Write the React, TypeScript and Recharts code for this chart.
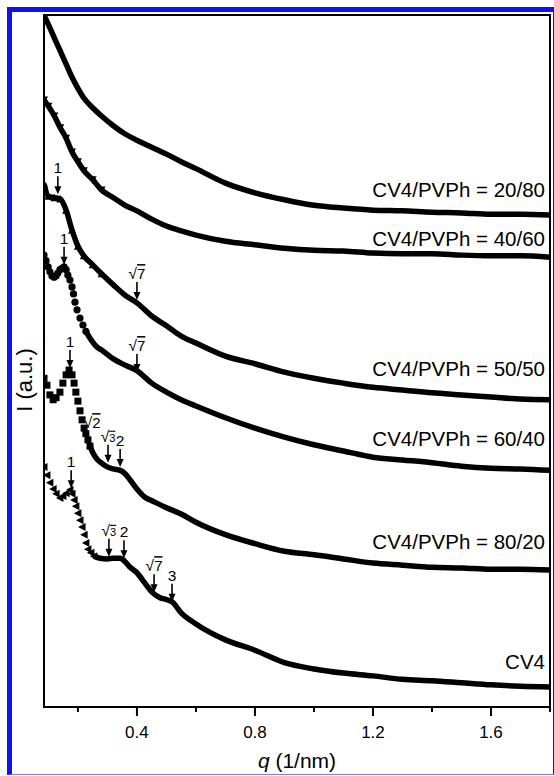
import React from "react";
import {
  ComposedChart,
  Line,
  Scatter,
  XAxis,
  YAxis,
  ReferenceArea,
  ReferenceDot,
  Label,
} from "recharts";

type Pt = { q: number; I: number };

const FONT = "'Liberation Sans', Arial, Helvetica, sans-serif";

// shared q grid (1/nm) for the three upper blends
const qGrid = [
  0.085, 0.1, 0.12, 0.14, 0.16, 0.18, 0.2, 0.22, 0.25, 0.28, 0.32, 0.36, 0.4,
  0.45, 0.5, 0.55, 0.6, 0.7, 0.8, 0.9, 1.0, 1.1, 1.2, 1.3, 1.4, 1.5, 1.6, 1.7,
  1.8,
];

// CV4/PVPh = 20/80
const i2080 = [
  100.0, 98.6, 96.7, 94.8, 92.9, 91.0, 89.4, 88.0, 86.6, 85.4, 84.0, 82.8,
  81.9, 80.9, 79.9, 78.8, 77.8, 75.7, 74.3, 73.3, 72.5, 72.1, 71.8, 71.7, 71.5,
  71.4, 71.2, 71.2, 71.1,
];

// CV4/PVPh = 40/60
const i4060 = [
  87.7, 86.8, 85.4, 83.7, 82.2, 80.2, 78.8, 77.5, 76.2, 74.7, 73.6, 72.5, 71.7,
  70.5, 69.5, 68.8, 68.2, 67.3, 66.8, 66.3, 66.0, 65.9, 65.6, 65.5, 65.5, 65.3,
  65.2, 65.2, 65.0,
];

// CV4/PVPh = 50/50
const i5050 = [
  75.6, 73.8, 73.6, 73.4, 71.8, 68.9, 66.6, 65.2, 63.9, 62.6, 61.0, 59.5, 58.4,
  56.5, 55.1, 53.6, 52.6, 50.7, 49.6, 48.4, 47.5, 46.8, 46.2, 45.8, 45.4, 45.1,
  44.8, 44.5, 44.4,
];

// CV4/PVPh = 60/40 (circles at low q, then the dense trace)
const q6040Head = [
  0.085, 0.092, 0.099, 0.105, 0.112, 0.119, 0.126, 0.132, 0.139, 0.146, 0.153,
  0.16, 0.166, 0.173, 0.18, 0.185, 0.19, 0.197, 0.207, 0.217, 0.227,
];
const i6040Head = [
  65.3, 64.5, 63.6, 62.9, 62.3, 62.1, 62.3, 62.7, 63.2, 63.4, 63.6, 63.2, 62.4,
  61.7, 60.7, 59.7, 58.5, 57.4, 56.2, 55.2, 54.3,
];
const q6040 = [
  0.227, 0.241, 0.265, 0.28, 0.32, 0.36, 0.4, 0.45, 0.5, 0.55, 0.6, 0.7, 0.8,
  0.9, 1.0, 1.1, 1.2, 1.3, 1.4, 1.5, 1.6, 1.7, 1.8,
];
const i6040 = [
  54.3, 53.3, 52.0, 51.6, 50.3, 49.4, 48.6, 46.8, 45.5, 44.4, 43.5, 41.8, 40.3,
  39.0, 37.9, 37.0, 36.1, 35.7, 35.3, 34.8, 34.5, 34.4, 34.2,
];

// CV4/PVPh = 80/20 (squares at low q)
const q8020Head = [
  0.085, 0.095, 0.105, 0.116, 0.126, 0.139, 0.149, 0.16, 0.17, 0.18, 0.187,
  0.193, 0.2, 0.207, 0.214, 0.221, 0.227, 0.234, 0.241,
];
const i8020Head = [
  47.5, 46.5, 45.1, 44.4, 44.7, 45.5, 46.8, 48.0, 48.7, 48.0, 46.8, 45.5, 44.2,
  42.8, 41.5, 40.3, 39.5, 38.6, 37.7,
];
const q8020 = [
  0.241, 0.251, 0.265, 0.278, 0.299, 0.319, 0.343, 0.36, 0.377, 0.4, 0.427,
  0.451, 0.5, 0.55, 0.6, 0.7, 0.8, 0.9, 1.0, 1.1, 1.2, 1.3, 1.4, 1.5, 1.6, 1.7,
  1.8,
];
const i8020 = [
  37.7, 36.7, 35.8, 35.3, 34.7, 34.4, 34.2, 33.7, 32.8, 31.5, 30.3, 29.8, 28.8,
  27.9, 26.7, 24.9, 23.6, 22.5, 22.0, 21.4, 20.8, 20.5, 20.2, 20.1, 19.9, 19.9,
  19.8,
];

// pure CV4 (triangles at low q)
const qCV4Head = [
  0.085, 0.095, 0.105, 0.116, 0.126, 0.139, 0.149, 0.16, 0.173, 0.18, 0.187,
  0.193, 0.2, 0.207, 0.214, 0.221, 0.227, 0.234, 0.244, 0.254,
];
const iCV4Head = [
  34.7, 33.5, 32.4, 31.5, 30.8, 30.2, 30.5, 30.9, 31.4, 30.8, 29.9, 29.0, 28.0,
  27.0, 26.0, 24.9, 23.7, 22.8, 22.3, 21.8,
];
const qCV4 = [
  0.254, 0.275, 0.299, 0.319, 0.343, 0.36, 0.377, 0.4, 0.427, 0.451, 0.478,
  0.502, 0.519, 0.55, 0.6, 0.7, 0.8, 0.9, 1.0, 1.1, 1.2, 1.3, 1.4, 1.5, 1.6,
  1.7, 1.8,
];
const iCV4 = [
  21.8, 21.5, 21.4, 21.5, 21.5, 21.0, 20.2, 19.4, 17.9, 16.6, 15.8, 15.5, 15.2,
  13.6, 12.0, 9.7, 8.2, 6.4, 5.5, 4.9, 4.5, 4.0, 3.8, 3.5, 3.2, 3.0, 2.9,
];

// peak indexing: position of the marked reflection and its order
const peakQ = [
  0.132, 0.4, 0.153, 0.4, 0.173, 0.248, 0.302, 0.343, 0.177, 0.305, 0.356,
  0.458, 0.519,
];
const peakI = [
  74.1, 58.8, 63.9, 48.4, 49.0, 40.3, 35.3, 34.7, 31.6, 21.7, 21.5, 16.6, 15.2,
];
const peakText = ["1", "√7", "1", "√7", "1", "√2", "√3", "2", "1", "√3", "2", "√7", "3"];

const curveNames = [
  "CV4/PVPh = 20/80",
  "CV4/PVPh = 40/60",
  "CV4/PVPh = 50/50",
  "CV4/PVPh = 60/40",
  "CV4/PVPh = 80/20",
  "CV4",
];
const nameLevels = [73.7, 66.6, 47.8, 37.7, 22.8, 5.5];

const qTicks = [0.2, 0.4, 0.6, 0.8, 1.0, 1.2, 1.4, 1.6, 1.8];
const qMajor = [0.4, 0.8, 1.2, 1.6];

const zip = (qs: number[], is: number[]): Pt[] =>
  qs.map((q, k) => ({ q, I: is[k] }));

const s2080 = zip(qGrid, i2080);
const s4060 = zip(qGrid, i4060);
const s5050 = zip(qGrid, i5050);
const s6040 = zip(q6040, i6040);
const s8020 = zip(q8020, i8020);
const sCV4 = zip(qCV4, iCV4);

const h4060 = s4060.slice(0, 10);
const h5050 = s5050.slice(0, 10);
const h6040 = zip(q6040Head, i6040Head);
const h8020 = zip(q8020Head, i8020Head);
const hCV4 = zip(qCV4Head, iCV4Head);

const triDown = (p: any) => (
  <polygon
    points={`${p.cx - 4},${p.cy - 3.5} ${p.cx + 4},${p.cy - 3.5} ${p.cx},${p.cy + 4}`}
    fill="#000"
  />
);
const triUp = (p: any) => (
  <polygon
    points={`${p.cx - 4},${p.cy + 3.5} ${p.cx + 4},${p.cy + 3.5} ${p.cx},${p.cy - 4}`}
    fill="#000"
  />
);
const triLeft = (p: any) => (
  <polygon
    points={`${p.cx + 3.5},${p.cy - 4} ${p.cx + 3.5},${p.cy + 4} ${p.cx - 4},${p.cy}`}
    fill="#000"
  />
);
const circle = (p: any) => <circle cx={p.cx} cy={p.cy} r={3.6} fill="#000" />;
const square = (p: any) => (
  <rect x={p.cx - 3.5} y={p.cy - 3.5} width={7} height={7} fill="#000" />
);

const indexText = (t: string) => {
  if (t.startsWith("√")) {
    const n = t.slice(1);
    return (
      <>
        <tspan>√</tspan>
        <tspan
          fontSize={n === "3" ? 11 : 15}
          style={{ textDecoration: "overline" }}
        >
          {n}
        </tspan>
      </>
    );
  }
  return t;
};

const PeakMark = (props: any) => {
  const { cx, cy, text } = props;
  const bare = text === "√2";
  return (
    <g>
      {!bare && (
        <>
          <line x1={cx} y1={cy - 18} x2={cx} y2={cy - 6} stroke="#000" strokeWidth={1.6} />
          <polygon
            points={`${cx - 3.5},${cy - 8} ${cx + 3.5},${cy - 8} ${cx},${cy}`}
            fill="#000"
          />
        </>
      )}
      <text
        x={cx}
        y={bare ? cy : cy - 21}
        textAnchor="middle"
        fontSize={15.5}
        fontFamily={FONT}
        fill="#000"
      >
        {indexText(text)}
      </text>
    </g>
  );
};

const QTick = (props: any) => {
  const { x, y, payload } = props;
  const major = qMajor.includes(payload.value);
  return (
    <g>
      <line x1={x} y1={y} x2={x} y2={y + (major ? 9 : 5)} stroke="#000" strokeWidth={2} />
      {major && (
        <text
          x={x}
          y={y + 31}
          textAnchor="middle"
          fontSize={17}
          fontFamily={FONT}
          fill="#000"
        >
          {payload.value.toFixed(1)}
        </text>
      )}
    </g>
  );
};

const App = () => {
  return (
    <div style={{ position: "absolute", left: 0, top: 0, width: 554, height: 776, background: "#fff" }}>
      <ComposedChart
        width={554}
        height={776}
        margin={{ top: 15, right: 4, bottom: 0, left: 0 }}
        style={{ fontFamily: FONT }}
      >
        <XAxis
          type="number"
          dataKey="q"
          domain={[0.085, 1.8]}
          allowDataOverflow
          ticks={qTicks}
          interval={0}
          axisLine={false}
          tickLine={false}
          tickSize={0}
          tickMargin={0}
          tick={<QTick />}
          height={69}
        >
          <Label
            content={(p: any) => {
              const vb = p.viewBox;
              return (
                <text
                  x={vb.x + vb.width / 2}
                  y={vb.y + 61}
                  textAnchor="middle"
                  fontSize={21}
                  fontFamily={FONT}
                  fill="#000"
                >
                  <tspan fontStyle="italic">q</tspan> (1/nm)
                </text>
              );
            }}
          />
        </XAxis>
        <YAxis
          type="number"
          domain={[0, 100]}
          allowDataOverflow
          width={44}
          axisLine={false}
          tickLine={false}
          tick={false}
        >
          <Label
            content={(p: any) => {
              const vb = p.viewBox;
              const cy = vb.y + vb.height / 2 + 19;
              return (
                <text
                  x={32}
                  y={cy}
                  textAnchor="middle"
                  fontSize={22}
                  fontFamily={FONT}
                  fill="#000"
                  transform={`rotate(-90, 32, ${cy})`}
                >
                  I (a.u.)
                </text>
              );
            }}
          />
        </YAxis>

        <ReferenceArea
          x1={0.085}
          x2={1.8}
          y1={0}
          y2={100}
          fill="none"
          stroke="#000"
          strokeWidth={2}
          ifOverflow="visible"
        />

        {[s2080, s4060, s5050, s6040, s8020, sCV4].map((s, k) => (
          <Line
            key={`line-${k}`}
            data={s}
            dataKey="I"
            type="monotone"
            stroke="#000"
            strokeWidth={5.5}
            strokeLinejoin="round"
            dot={false}
            activeDot={false}
            isAnimationActive={false}
          />
        ))}

        <Scatter data={h4060} dataKey="I" shape={triDown} isAnimationActive={false} />
        <Scatter data={h5050} dataKey="I" shape={triUp} isAnimationActive={false} />
        <Scatter data={h6040} dataKey="I" shape={circle} isAnimationActive={false} />
        <Scatter data={h8020} dataKey="I" shape={square} isAnimationActive={false} />
        <Scatter data={hCV4} dataKey="I" shape={triLeft} isAnimationActive={false} />

        {peakQ.map((q, k) => (
          <ReferenceDot
            key={`peak-${k}`}
            x={q}
            y={peakI[k]}
            r={0}
            ifOverflow="visible"
            shape={(p: any) => <PeakMark cx={p.cx} cy={p.cy} text={peakText[k]} />}
          />
        ))}

        {curveNames.map((name, k) => (
          <ReferenceDot
            key={`name-${k}`}
            x={1.8}
            y={nameLevels[k]}
            r={0}
            ifOverflow="visible"
            shape={(p: any) => (
              <text
                x={p.cx - 5}
                y={p.cy}
                textAnchor="end"
                fontSize={20.5}
                fontFamily={FONT}
                fill="#000"
              >
                {name}
              </text>
            )}
          />
        ))}
      </ComposedChart>
      <div
        style={{
          position: "absolute",
          left: 7,
          top: 7,
          width: 541,
          height: 762,
          borderLeft: "5px solid #1010f0",
          borderTop: "5px solid #1010f0",
          borderRight: "2px solid #1010f0",
          borderBottom: "1px solid #7a7af5",
          pointerEvents: "none",
        }}
      />
    </div>
  );
};

export default App;
